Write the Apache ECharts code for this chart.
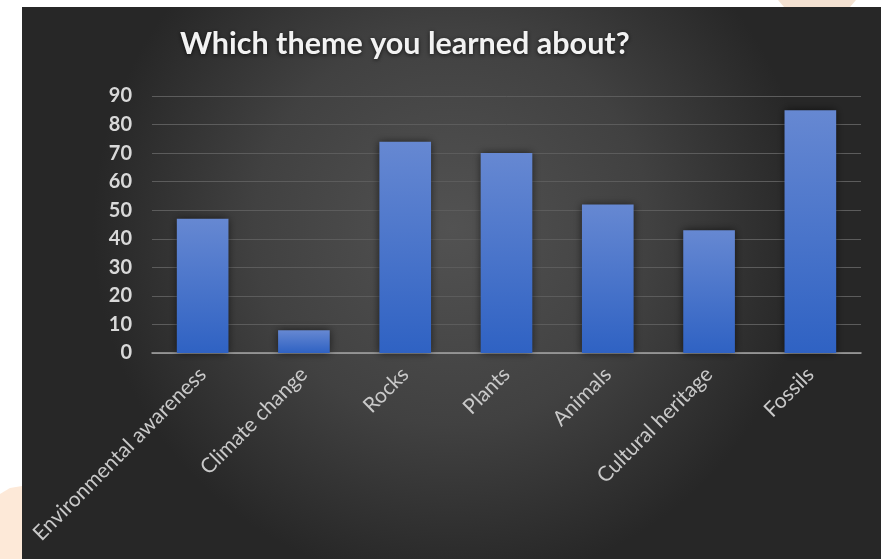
<!DOCTYPE html>
<html>
<head>
<meta charset="utf-8">
<style>
  html, body { margin: 0; padding: 0; background: #ffffff; }
  #chart { width: 881px; height: 559px; }
</style>
<script src="https://cdn.jsdelivr.net/npm/echarts@6/dist/echarts.min.js"></script>
</head>
<body>
<div id="chart"></div>
<script>
// Survey: which theme respondents learned about
const chartTitle = 'Which theme you learned about?';
const themes = ['Environmental awareness', 'Climate change', 'Rocks', 'Plants', 'Animals', 'Cultural heritage', 'Fossils'];
const counts = [47, 8, 74, 70, 52, 43, 85];
const yMin = 0;
const yMax = 90;
const yStep = 10;

const chart = echarts.init(document.getElementById('chart'), null, { renderer: 'canvas' });

chart.setOption({
  backgroundColor: '#ffffff',
  animation: false,
  graphic: [
    // soft peach shapes peeking out behind the panel
    {
      type: 'polygon', z: -10, silent: true,
      shape: { points: [[0, 494], [10, 488], [22, 486], [22, 559], [0, 559]] },
      style: { fill: '#fde9d8' }
    },
    {
      type: 'polygon', z: -10, silent: true,
      shape: { points: [[778, 0], [856, 0], [850, 7], [784, 7]] },
      style: { fill: '#f4e2d2' }
    },
    // dark panel behind the chart
    {
      type: 'rect', z: -5, silent: true,
      shape: { x: 22, y: 7, width: 859, height: 552 },
      style: {
        fill: {
          type: 'radial', x: 0.5, y: 0.4, r: 0.65,
          colorStops: [
            { offset: 0, color: '#525252' },
            { offset: 0.55, color: '#414141' },
            { offset: 1, color: '#272727' }
          ]
        }
      }
    }
  ],
  title: {
    text: chartTitle,
    left: 175,
    top: 24,
    textStyle: {
      fontFamily: 'Lato',
      fontWeight: 'bold',
      fontSize: 30.5,
      color: '#f2f2f2',
      textShadowColor: 'rgba(0,0,0,0.7)',
      textShadowBlur: 4,
      textShadowOffsetY: 1
    }
  },
  grid: { left: 152, right: 20, top: 96, bottom: 206, containLabel: false },
  xAxis: {
    type: 'category',
    data: themes,
    axisLine: { show: true, lineStyle: { color: '#a6a6a6', width: 1.5 } },
    axisTick: { show: false },
    axisLabel: {
      interval: 0,
      rotate: 45,
      margin: 18,
      fontFamily: 'Lato',
      fontSize: 21,
      color: '#c9c9c9'
    }
  },
  yAxis: {
    type: 'value',
    min: yMin,
    max: yMax,
    interval: yStep,
    axisLine: { show: false },
    axisTick: { show: false },
    axisLabel: {
      margin: 20,
      fontFamily: 'Lato',
      fontWeight: 'bold',
      fontSize: 20,
      color: '#d9d9d9'
    },
    splitLine: { lineStyle: { color: '#5c5c5c', width: 1 } }
  },
  series: [{
    type: 'bar',
    data: counts,
    barCategoryGap: '49%',
    itemStyle: {
      color: {
        type: 'linear', x: 0, y: 0, x2: 0, y2: 1,
        colorStops: [
          { offset: 0, color: '#6688d2' },
          { offset: 1, color: '#2f62c3' }
        ]
      },
      shadowColor: 'rgba(0,0,0,0.6)',
      shadowBlur: 8
    }
  }]
});
</script>
</body>
</html>
